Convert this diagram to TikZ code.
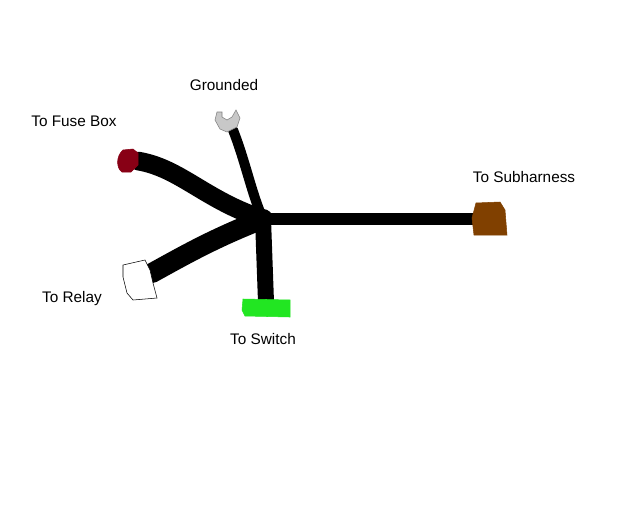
\documentclass[tikz,border=0pt]{standalone}
\usepackage{fontspec}
\setmainfont{Liberation Sans}
\definecolor{fusered}{RGB}{136,0,21}
\definecolor{groundgray}{RGB}{200,200,200}
\definecolor{switchgreen}{RGB}{34,230,34}
\definecolor{subbrown}{RGB}{128,64,0}
\tikzset{
	wire/.style={line width=#1, line cap=round, line join=round, black},
	label/.style={font=\fontsize{11.5}{13}\selectfont, inner sep=0pt}
}
\begin{document}
\begin{tikzpicture}[x=0.75pt,y=-0.75pt]
			\useasboundingbox[fill=white] (0,0) rectangle (640,512);

			% wire ends
			\coordinate (hub) at (263,219);
			\coordinate (fuseend) at (138,161);
			\coordinate (relayend) at (152,273);
			\coordinate (groundend) at (233,130);
			\coordinate (switchend) at (266,302);
			\coordinate (subend) at (476,219);

			% wires
			\draw[wire=14pt] (fuseend) .. controls (180,168) and (205,200) .. (hub);
			\draw[wire=15pt] (relayend) .. controls (190,252) and (215,238) .. (hub);
			\draw[wire=7.5pt] (groundend) .. controls (245,160) and (252,195) .. (hub);
			\draw[wire=12pt] (hub) -- (switchend);
			\draw[wire=9.5pt] (hub) -- (subend);

			% plugs
			\draw[draw=fusered, fill=fusered] (123,150) -- (133,149) -- (138,153) -- (138,165)
				-- (131,172) -- (122,172) .. controls (116,168) and (116,156) .. cycle;
			\draw[draw=gray, fill=groundgray] (217,112) -- (215,120) -- (220,129) -- (227,132)
				-- (237,127) -- (240,118) -- (236,110) -- (232,117) -- (227,120)
				-- (222,117) -- (222,112) -- cycle;
			\draw[draw=black, fill=white] (123,265) -- (145,260) -- (150,270) -- (153,283)
				-- (157,298) -- (133,300) -- (127,293) -- (123,277) -- cycle;
			\draw[draw=switchgreen, fill=switchgreen] (243,299) -- (290,300) -- (290,317)
				-- (245,316) -- (242,310) -- cycle;
			\draw[draw=subbrown, fill=subbrown] (476,203) -- (500,202) -- (505,210) -- (507,235)
				-- (474,235) -- (472,218) -- cycle;

			% labels
			\foreach \n/\xy/\t in {grounded/{(224,85)}/Grounded, fuse/{(74,121)}/To Fuse Box,
								relay/{(72,299)}/To Relay, switch/{(263,339)}/To Switch,
								subh/{(524,177)}/To Subharness}
				\node[label] (\n) at \xy {\t};

		\end{tikzpicture}
\end{document}
